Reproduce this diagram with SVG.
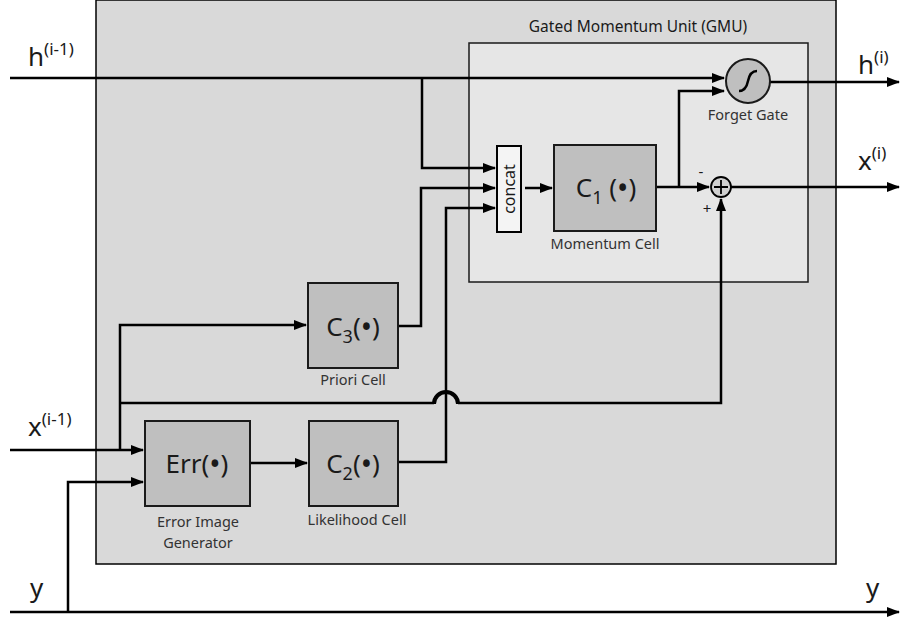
<svg xmlns="http://www.w3.org/2000/svg" width="900" height="624" viewBox="0 0 900 624">
<style>
text{font-family:"Noto Sans","Open Sans","DejaVu Sans",sans-serif;fill:#1a1a1a}
.big{font-size:26px}
.sup{font-size:17px}
.cell{fill:#bfbfbf;stroke:#1a1a1a;stroke-width:2}
.cl{font-size:26px;text-anchor:middle}
.sub{font-size:18px}
.dot{font-size:30px}
.sm{font-size:14.5px;text-anchor:middle;fill:#333}
.ln{fill:none;stroke:#000;stroke-width:2.5}
</style>
<defs>
<marker id="ar" markerUnits="userSpaceOnUse" markerWidth="13" markerHeight="10" refX="12" refY="5" orient="auto">
<path d="M0,0 L13,5 L0,10 z" fill="#000"/>
</marker>
</defs>
<g id="outer">
<rect x="96" y="0" width="740" height="564" fill="#d9d9d9" stroke="#000" stroke-width="1.5"/>
</g>
<g id="gmu">
<rect x="469" y="43" width="339" height="239" fill="#e6e6e6" stroke="#1a1a1a" stroke-width="1.5"/>
<text x="638" y="32" font-size="15.5" text-anchor="middle" fill="#333">Gated Momentum Unit (GMU)</text>
</g>
<g id="connectors" class="ln">
<path class="ln" d="M10,78 H724" marker-end="url(#ar)"/>
<path class="ln" d="M422,78 V168 H495" marker-end="url(#ar)"/>
<path class="ln" d="M398,326 H421 V188 H495" marker-end="url(#ar)"/>
<path class="ln" d="M398,462 H446 V208 H495" marker-end="url(#ar)"/>
<path class="ln" d="M525,188 H552" marker-end="url(#ar)"/>
<path class="ln" d="M656,187 H709" marker-end="url(#ar)"/>
<path class="ln" d="M679,187 V91 H724" marker-end="url(#ar)"/>
<path class="ln" d="M770,82 H899" marker-end="url(#ar)"/>
<path class="ln" d="M731,187 H899" marker-end="url(#ar)"/>
<path class="ln" d="M10,450 H143" marker-end="url(#ar)"/>
<path class="ln" d="M120,450 V325 H306" marker-end="url(#ar)"/>
<path class="ln" d="M120,403 H434"/>
<path d="M434,404 A12,12 0 0 1 458,404" fill="none" stroke="#000" stroke-width="4"/>
<path class="ln" d="M458,403 H721 V199" marker-end="url(#ar)"/>
<path class="ln" d="M250,463 H307" marker-end="url(#ar)"/>
<path class="ln" d="M10,612 H899" marker-end="url(#ar)"/>
<path class="ln" d="M68,612 V482 H143" marker-end="url(#ar)"/>
</g>
<g id="forget-gate">
<circle cx="748" cy="81" r="22" fill="#bfbfbf" stroke="#1a1a1a" stroke-width="2"/>
<path d="M739,91 C745,91 747,86 748,81 C749,76 751,71 757,71" fill="none" stroke="#000" stroke-width="2.5"/>
<text class="sm" x="748" y="120">Forget Gate</text>
</g>
<g id="sum">
<circle cx="721" cy="187" r="10" fill="#d0d0d0" stroke="#000" stroke-width="1.8"/>
<path d="M714,187 H728 M721,180 V194" stroke="#000" stroke-width="1.8"/>
<text x="701" y="177" font-size="15" text-anchor="middle">-</text>
<text x="707" y="214" font-size="15" text-anchor="middle">+</text>
</g>
<g id="concat">
<rect x="497" y="146" width="24" height="86" fill="#f4f4f4" stroke="#000" stroke-width="2"/>
<text x="0" y="0" font-size="16" text-anchor="middle" transform="translate(515,189) rotate(-90)">concat</text>
</g>
<g id="momentum-cell">
<rect class="cell" x="554" y="145" width="102" height="86"/>
<text class="cl" x="606" y="197">C<tspan class="sub" dy="7">1</tspan><tspan dy="-7"> (</tspan><tspan class="dot" dy="2">•</tspan><tspan dy="-2">)</tspan></text>
<text class="sm" x="605" y="249">Momentum Cell</text>
</g>
<g id="priori-cell">
<rect class="cell" x="308" y="283" width="90" height="85"/>
<text class="cl" x="353" y="336">C<tspan class="sub" dy="7">3</tspan><tspan dy="-7">(</tspan><tspan class="dot" dy="2">•</tspan><tspan dy="-2">)</tspan></text>
<text class="sm" x="353" y="385">Priori Cell</text>
</g>
<g id="error-image-generator">
<rect class="cell" x="145" y="421" width="105" height="85"/>
<text class="cl" x="197" y="473">Err(<tspan class="dot" dy="2">•</tspan><tspan dy="-2">)</tspan></text>
<text class="sm" x="198" y="527">Error Image</text>
<text class="sm" x="198" y="548">Generator</text>
</g>
<g id="likelihood-cell">
<rect class="cell" x="309" y="421" width="89" height="85"/>
<text class="cl" x="353" y="473">C<tspan class="sub" dy="7">2</tspan><tspan dy="-7">(</tspan><tspan class="dot" dy="2">•</tspan><tspan dy="-2">)</tspan></text>
<text class="sm" x="357" y="525">Likelihood Cell</text>
</g>
<g id="labels">
<text class="big" x="28" y="66">h<tspan class="sup" dy="-11">(i-1)</tspan></text>
<text class="big" x="28" y="436">x<tspan class="sup" dy="-11">(i-1)</tspan></text>
<text class="big" x="858" y="74">h<tspan class="sup" dy="-11">(i)</tspan></text>
<text class="big" x="858" y="170">x<tspan class="sup" dy="-11">(i)</tspan></text>
<text class="big" x="30" y="597">y</text>
<text class="big" x="866" y="597">y</text>
</g>
</svg>
